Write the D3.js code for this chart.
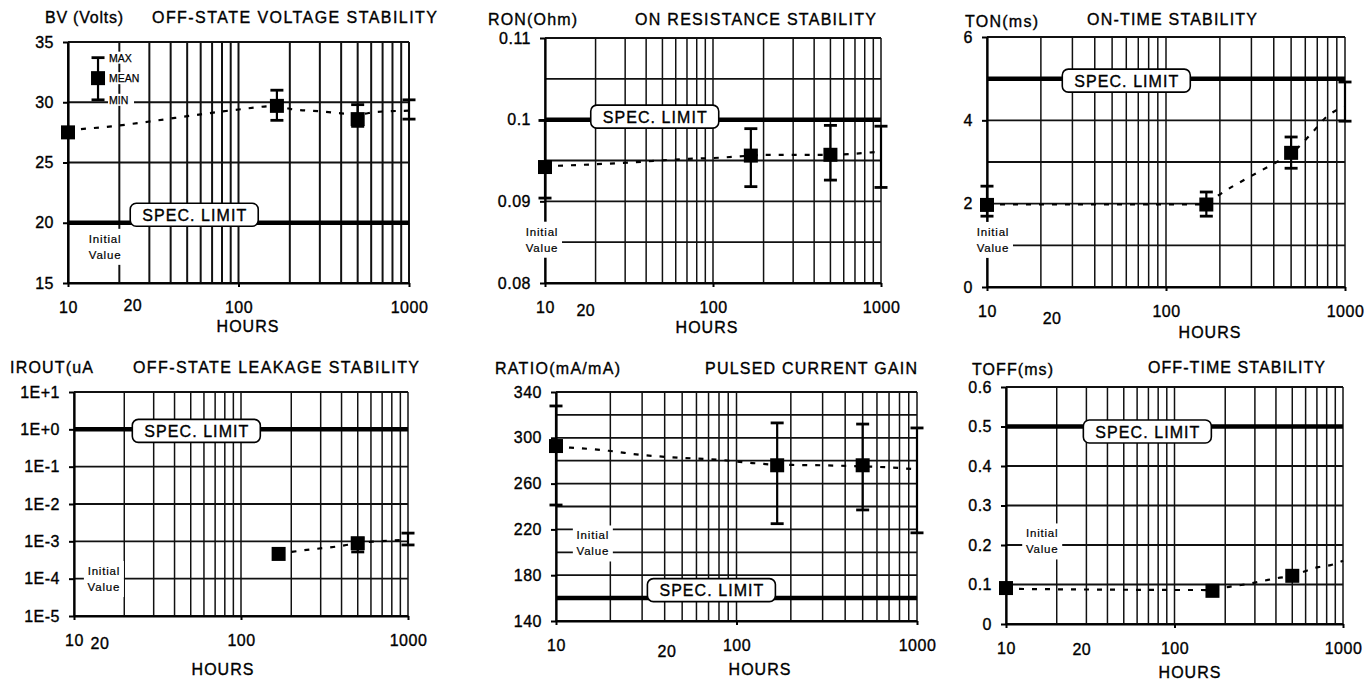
<!DOCTYPE html>
<html>
<head>
<meta charset="utf-8">
<script src="https://cdn.jsdelivr.net/npm/d3@7"></script>
<style>
  body { margin: 0; background: #fff; }
  svg text { font-family: "Liberation Sans", Arial, sans-serif; fill: #000; stroke: #000; stroke-width: 0.35px; }
</style>
</head>
<body>
<svg id="chart" width="1369" height="687"></svg>
<script>
// ---- data ----
const hours = [10, 168, 500, 1000];
const xTickValues = [10, 100, 1000];

// off-state voltage (V)
const bvMean = [27.5, 29.7, 28.6, null];
const bvMax  = [null, 31.0, 29.8, 30.2];
const bvMin  = [null, 28.5, 28.0, 28.6];
const bvTrendHours = [10, 18, 30, 60, 100, 168, 200, 300, 500, 650, 1000];
const bvTrend      = [27.7, 28.0, 28.4, 29.0, 29.4, 29.7, 29.45, 29.25, 29.0, 29.2, 29.3];
const bvLegendHour = 15;
const bvLegendStats = [33.7, 32.0, 30.2]; // max, mean, min
const bvLegendText = ["MAX", "MEAN", "MIN"];

// on resistance (ohm)
const ronMean = [0.0942, 0.0956, 0.0957, null];
const ronMax  = [0.0999, 0.0989, 0.0993, 0.0992];
const ronMin  = [0.0904, 0.0918, 0.0926, 0.0917];
const ronTrendHours = [10, 29, 71, 100, 168, 200, 344, 500, 883, 1000];
const ronTrend      = [0.0943, 0.0947, 0.0952, 0.0953, 0.0956, 0.0957, 0.0957, 0.0957, 0.0960, 0.0961];

// on time (ms)
const tonMean = [1.97, 1.98, 3.22, null];
const tonMax  = [2.42, 2.28, 3.6, 4.92];
const tonMin  = [1.7, 1.7, 2.85, 3.98];
const tonTrendHours = [10, 168, 192, 295, 408, 500, 651, 791, 1000];
const tonTrend      = [1.98, 1.98, 2.17, 2.65, 2.98, 3.2, 3.69, 4.09, 4.33];

// off-state leakage (uA)
const iroutMean = [null, 4.6e-4, 8.9e-4, null];
const iroutMax  = [null, null, 1.2e-3, 1.66e-3];
const iroutMin  = [null, null, 5.2e-4, 8.0e-4];
const iroutTrendHours = [168, 219, 284, 370, 500, 617, 795, 1000];
const iroutTrend      = [4.6e-4, 5.5e-4, 6.3e-4, 7.2e-4, 8.9e-4, 9.8e-4, 1.05e-3, 1.1e-3];

// pulsed current gain (mA/mA)
const ratioMean = [292.8, 276, 276, null];
const ratioMax  = [327.8, 313, 312, 308.6];
const ratioMin  = [241.3, 225, 237, 217];
const ratioTrendHours = [10, 12, 19.5, 29.8, 43.7, 82.7, 116, 168, 296, 500, 692, 1000];
const ratioTrend      = [292, 291.4, 288.7, 285, 283, 280.6, 278.3, 276.5, 276, 275, 274.2, 272.4];

// off time (ms)
const toffMean = [0.091, 0.084, 0.122, null];
const toffMax  = [null, null, null, null];
const toffMin  = [null, null, null, null];
const toffTrendHours = [10, 168, 204, 287, 344, 404, 500, 609, 714, 845, 1000];
const toffTrend      = [0.089, 0.086, 0.093, 0.103, 0.11, 0.116, 0.122, 0.135, 0.144, 0.149, 0.16];

const specLimits = [20, 0.1, 5, 1, 160, 0.5];
const titles = ["OFF-STATE VOLTAGE STABILITY", "ON RESISTANCE STABILITY", "ON-TIME STABILITY",
                "OFF-STATE LEAKAGE STABILITY", "PULSED CURRENT GAIN", "OFF-TIME STABILITY"];
const yLabels = ["BV (Volts)", "RON(Ohm)", "TON(ms)", "IROUT(uA", "RATIO(mA/mA)", "TOFF(ms)"];

const fmtDec = d => String(+d.toFixed(3));
const fmtExp = d => { const e = Math.round(Math.log10(d)); return "1E" + (e >= 0 ? "+" + e : e); };

// ---- panel setup (layout in pixels, annotations in data units) ----
const panels = [
  { mean: bvMean, max: bvMax, min: bvMin, tH: bvTrendHours, tV: bvTrend,
    domain: [15, 35], grid: d3.range(15, 36, 5), ticks: d3.range(15, 36, 5), fmt: fmtDec,
    x0: 68, x1: 409, y0: 42, y1: 283,
    labelX: 45, labelY: 23, labelW: 78, titleX: 152, titleY: 23, titleW: 285,
    specAt: 55, specDy: -8, l20At: 24, l20Dy: -3, hoursX: 248, hoursDy: 49, init: [16.5, 18.0] },
  { mean: ronMean, max: ronMax, min: ronMin, tH: ronTrendHours, tV: ronTrend,
    domain: [0.08, 0.11], grid: d3.range(16, 23).map(k => k * 0.005), ticks: [0.08, 0.09, 0.1, 0.11], fmt: fmtDec,
    x0: 545, x1: 881, y0: 38, y1: 283,
    labelX: 488, labelY: 25, labelW: 89, titleX: 635, titleY: 25, titleW: 241,
    specAt: 45, specDy: -3, l20At: 17.5, l20Dy: 2, hoursX: 707, hoursDy: 50, init: [9.6, 0.0853] },
  { mean: tonMean, max: tonMax, min: tonMin, tH: tonTrendHours, tV: tonTrend,
    domain: [0, 6], grid: d3.range(0, 7), ticks: [0, 2, 4, 6], fmt: fmtDec,
    x0: 987, x1: 1345, y0: 37, y1: 287,
    labelX: 965, labelY: 27, labelW: 73, titleX: 1087, titleY: 25, titleW: 170,
    specAt: 60, specDy: 2, l20At: 23.1, l20Dy: 6, hoursX: 1210, hoursDy: 51, init: [10.8, 1.13] },
  { mean: iroutMean, max: iroutMax, min: iroutMin, tH: iroutTrendHours, tV: iroutTrend, log: true,
    domain: [1e-5, 10], grid: d3.range(-5, 2).map(e => Math.pow(10, e)), ticks: d3.range(-5, 2).map(e => Math.pow(10, e)), fmt: fmtExp,
    x0: 74, x1: 408, y0: 392, y1: 616,
    labelX: 10, labelY: 373, labelW: 83, titleX: 133, titleY: 373, titleW: 286,
    specAt: 54, specDy: 1.5, l20At: 14.3, l20Dy: 2, hoursX: 223, hoursDy: 59, init: [15.1, 9.8e-5] },
  { mean: ratioMean, max: ratioMax, min: ratioMin, tH: ratioTrendHours, tV: ratioTrend,
    domain: [140, 340], grid: d3.range(140, 341, 20), ticks: d3.range(140, 341, 40), fmt: fmtDec,
    x0: 556, x1: 917, y0: 392, y1: 621,
    labelX: 495, labelY: 374, labelW: 125, titleX: 705, titleY: 374, titleW: 212,
    specAt: 72.6, specDy: -8, l20At: 41.2, l20Dy: 5, hoursX: 760, hoursDy: 54, init: [16, 207.7] },
  { mean: toffMean, max: toffMax, min: toffMin, tH: toffTrendHours, tV: toffTrend,
    domain: [0, 0.6], grid: d3.range(0, 7).map(k => k / 10), ticks: d3.range(0, 7).map(k => k / 10), fmt: fmtDec,
    x0: 1006, x1: 1343, y0: 387, y1: 624,
    labelX: 972, labelY: 375, labelW: 81, titleX: 1148, titleY: 373, titleW: 177,
    specAt: 69, specDy: 5, l20At: 28.2, l20Dy: 0, hoursX: 1190, hoursDy: 54, init: [16.4, 0.209] }
];

const svg = d3.select("#chart");
svg.append("rect").attr("width", 1369).attr("height", 687).attr("fill", "#fff");

const minorHours = [];
[10, 100].forEach(d => { for (let k = 1; k < 10; k++) minorHours.push(d * k); });
minorHours.push(1000);

function drawPanel(p, i) {
  const g = svg.append("g");
  const x = d3.scaleLog().domain([10, 1000]).range([p.x0, p.x1]);
  const y = (p.log ? d3.scaleLog() : d3.scaleLinear()).domain(p.domain).range([p.y1, p.y0]);

  // grid
  g.append("g").selectAll("line").data(minorHours).join("line")
    .attr("x1", d => x(d)).attr("x2", d => x(d))
    .attr("y1", p.y0).attr("y2", p.y1)
    .attr("stroke", "#111").attr("stroke-width", i === 0 ? 2 : 1.5);
  g.append("g").selectAll("line").data(p.grid).join("line")
    .attr("x1", p.x0).attr("x2", p.x1)
    .attr("y1", d => y(d)).attr("y2", d => y(d))
    .attr("stroke", "#111").attr("stroke-width", 1.8);

  // axes
  const ya = g.append("g").attr("transform", `translate(${p.x0},0)`)
    .call(d3.axisLeft(y).tickValues(p.ticks).tickFormat(p.fmt).tickSize(5).tickSizeOuter(0).tickPadding(9));
  const xa = g.append("g").attr("transform", `translate(0,${p.y1})`)
    .call(d3.axisBottom(x).tickValues(xTickValues).tickFormat(d3.format("d")).tickSize(4).tickSizeOuter(0).tickPadding(15));
  [ya, xa].forEach(a => {
    a.select(".domain").attr("stroke", "#000").attr("stroke-width", 2.2);
    a.selectAll(".tick line").attr("stroke", "#000").attr("stroke-width", 2);
    a.selectAll("text").attr("font-size", 16).attr("fill", "#000").attr("letter-spacing", 0.5)
      .attr("font-family", "'Liberation Sans', Arial, sans-serif");
  });
  g.append("text").attr("x", x(p.l20At)).attr("y", p.y1 + 31 + p.l20Dy)
    .attr("text-anchor", "middle").attr("font-size", 16).attr("letter-spacing", 0.5).text("20");
  g.append("text").attr("x", p.hoursX).attr("y", p.y1 + p.hoursDy)
    .attr("text-anchor", "middle").attr("font-size", 16).attr("letter-spacing", 1).text("HOURS");

  // titles
  g.append("text").attr("x", p.labelX).attr("y", p.labelY).attr("font-size", 16)
    .attr("textLength", p.labelW).attr("lengthAdjust", "spacing").text(yLabels[i]);
  g.append("text").attr("x", p.titleX).attr("y", p.titleY).attr("font-size", 16)
    .attr("textLength", p.titleW).attr("lengthAdjust", "spacing").text(titles[i]);

  // initial value note
  const ix = x(p.init[0]), iy = y(p.init[1]);
  g.append("rect").attr("x", ix - 20).attr("y", iy - 18).attr("width", 40).attr("height", 36).attr("fill", "#fff");
  g.append("text").attr("x", ix).attr("y", iy - 4).attr("text-anchor", "middle")
    .attr("font-size", 11.5).attr("letter-spacing", 0.8).style("stroke-width", "0.2px").text("Initial");
  g.append("text").attr("x", ix).attr("y", iy + 12).attr("text-anchor", "middle")
    .attr("font-size", 11.5).attr("letter-spacing", 0.8).style("stroke-width", "0.2px").text("Value");

  // spec limit
  const sy = y(specLimits[i]);
  g.append("line").attr("x1", p.x0).attr("x2", p.x1).attr("y1", sy).attr("y2", sy)
    .attr("stroke", "#000").attr("stroke-width", 4.5);
  const bx = x(p.specAt), by = sy + p.specDy;
  g.append("rect").attr("x", bx - 64).attr("y", by - 11.5).attr("width", 128).attr("height", 23)
    .attr("rx", 6).attr("fill", "#fff").attr("stroke", "#000").attr("stroke-width", 1.6);
  g.append("text").attr("x", bx).attr("y", by + 6).attr("text-anchor", "middle")
    .attr("font-size", 16).attr("textLength", 104).attr("lengthAdjust", "spacing").text("SPEC. LIMIT");

  // trend
  const trend = p.tH.map((h, k) => [h, p.tV[k]]);
  g.append("path").datum(trend)
    .attr("d", d3.line().x(d => x(d[0])).y(d => y(d[1])).curve(d3.curveMonotoneX))
    .attr("fill", "none").attr("stroke", "#000").attr("stroke-width", 2.2)
    .attr("stroke-dasharray", "5,8");

  // error bars
  const bars = hours.map((h, k) => ({ h, hi: p.max[k], lo: p.min[k] })).filter(d => d.hi != null && d.lo != null);
  const eb = g.append("g").selectAll("g").data(bars).join("g");
  eb.append("line").attr("x1", d => x(d.h)).attr("x2", d => x(d.h))
    .attr("y1", d => y(d.hi)).attr("y2", d => y(d.lo)).attr("stroke", "#000").attr("stroke-width", 2.2);
  eb.selectAll(".cap").data(d => [[d.h, d.hi], [d.h, d.lo]]).join("line")
    .attr("x1", d => x(d[0]) - 6.5).attr("x2", d => x(d[0]) + 6.5)
    .attr("y1", d => y(d[1])).attr("y2", d => y(d[1])).attr("stroke", "#000").attr("stroke-width", 2.8);

  // means
  const pts = hours.map((h, k) => ({ h, v: p.mean[k] })).filter(d => d.v != null);
  g.append("g").selectAll("rect").data(pts).join("rect")
    .attr("x", d => x(d.h) - 7).attr("y", d => y(d.v) - 7)
    .attr("width", 14).attr("height", 14).attr("fill", "#000");

  return { x, y, g };
}

const drawn = panels.map(drawPanel);

// legend sample in the first panel
const L = drawn[0];
const lx = L.x(bvLegendHour);
L.g.append("line").attr("x1", lx).attr("x2", lx)
  .attr("y1", L.y(bvLegendStats[0])).attr("y2", L.y(bvLegendStats[2]))
  .attr("stroke", "#000").attr("stroke-width", 2.2);
[bvLegendStats[0], bvLegendStats[2]].forEach(v => {
  L.g.append("line").attr("x1", lx - 6.5).attr("x2", lx + 6.5).attr("y1", L.y(v)).attr("y2", L.y(v))
    .attr("stroke", "#000").attr("stroke-width", 2.8);
});
L.g.append("rect").attr("x", lx - 7).attr("y", L.y(bvLegendStats[1]) - 7)
  .attr("width", 14).attr("height", 14).attr("fill", "#000");
bvLegendText.forEach((t, k) => {
  const ty = L.y(bvLegendStats[k]) + 4;
  L.g.append("rect").attr("x", lx + 10).attr("y", ty - 10).attr("width", t.length * 8 + 2).attr("height", 12).attr("fill", "#fff");
  L.g.append("text").attr("x", lx + 11).attr("y", ty).attr("font-size", 10.5)
    .style("stroke-width", "0.25px").text(t);
});
</script>
</body>
</html>
